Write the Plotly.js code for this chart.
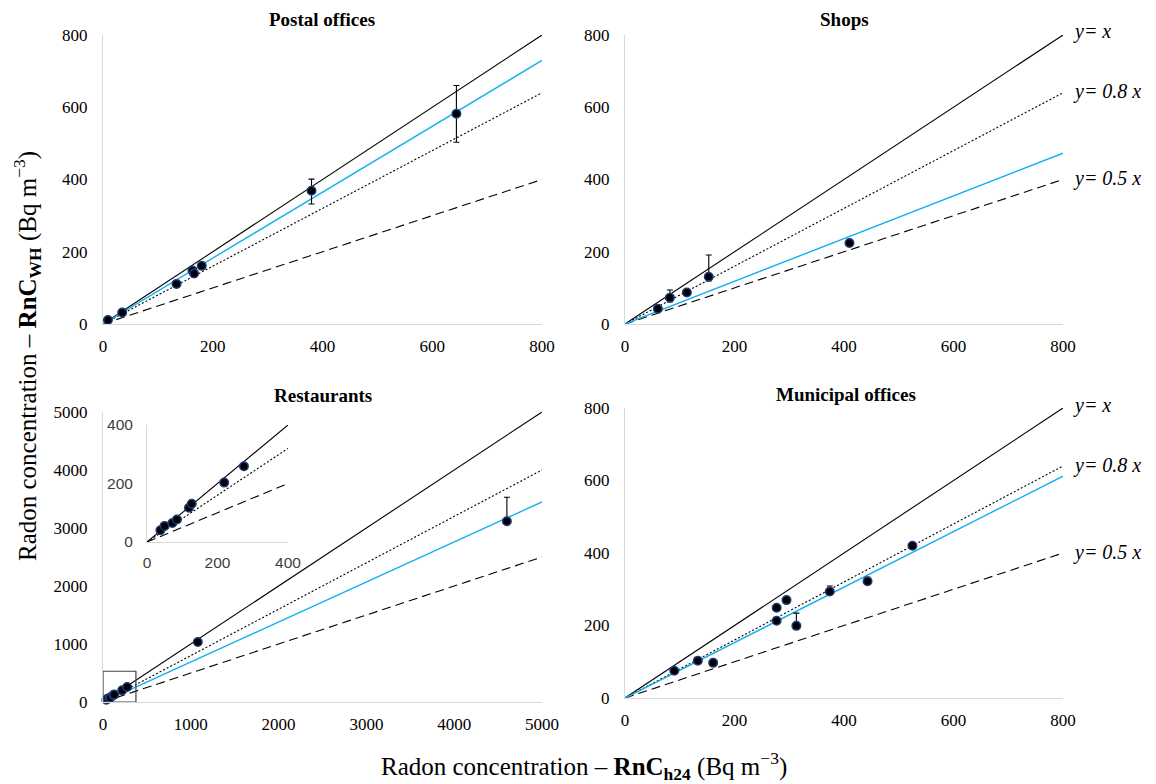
<!DOCTYPE html>
<html>
<head>
<meta charset="utf-8">
<script src="https://cdn.plot.ly/plotly-3.0.1.min.js"></script>
<style>html,body{margin:0;padding:0;background:#fff;}#chart{width:1156px;height:784px;}</style>
</head>
<body>
<div id="chart"></div>
<script>
// ---------------- DATA ----------------
const panelTitles = ["Postal offices", "Shops", "Restaurants", "Municipal offices"];

const postalX = [9, 35, 134, 163, 166, 180, 380, 644];
const postalY = [11, 32, 111, 148, 140, 161, 369, 582];
const postalErrPlus = [0, 0, 8, 0, 0, 0, 32, 78];
const postalErrMinus = [0, 0, 8, 0, 0, 0, 37, 79];

const shopsX = [60, 82, 113, 153, 410];
const shopsY = [42, 73, 87, 131, 224];
const shopsErrPlus = [0, 21, 0, 60, 0];
const shopsErrMinus = [0, 12, 0, 12, 0];

const restX = [38, 50, 72, 85, 119, 127, 219, 275, 1080, 4600];
const restY = [40, 55, 65, 77, 117, 131, 203, 259, 1035, 3115];
const restErrPlus = [0, 0, 0, 0, 0, 0, 0, 0, 0, 415];
const restErrMinus = [0, 0, 0, 0, 0, 0, 0, 0, 0, 0];

const muniX = [90, 133, 161, 277, 277, 295, 313, 374, 443, 525];
const muniY = [75, 103, 97, 249, 213, 270, 199, 294, 322, 420];
const muniErrPlus = [0, 0, 0, 0, 0, 0, 35, 15, 11, 0];
const muniErrMinus = [0, 0, 0, 0, 0, 0, 0, 3, 3, 0];

// reference lines y = k x and fitted slopes (blue)
const refSlopes = [1, 0.8, 0.5];
const refLabels = ["y= x", "y= 0.8 x", "y= 0.5 x"];
const fitSlopes = [0.912, 0.591, 0.69, 0.765];
const axisMax = [800, 800, 5000, 800];
const insetMax = 400;
const insetBox = [375, 530]; // zoom box extent in restaurant panel

// ---------------- LAYOUT HELPERS ----------------
const W = 1156, H = 784;
const px = v => v / W;
const py = v => 1 - v / H;
const serif = "'Liberation Serif', 'Times New Roman', serif";
const sans = "'Liberation Sans', Arial, sans-serif";

const refStyles = [
  {color: "#000", width: 1.1, dash: "solid"},
  {color: "#000", width: 1.1, dash: "2px,2px"},
  {color: "#000", width: 1.1, dash: "9px,5px"}
];

const panels = [
  {x: postalX, y: postalY, ep: postalErrPlus, em: postalErrMinus, xa: "x", ya: "y"},
  {x: shopsX, y: shopsY, ep: shopsErrPlus, em: shopsErrMinus, xa: "x2", ya: "y2"},
  {x: restX, y: restY, ep: restErrPlus, em: restErrMinus, xa: "x3", ya: "y3"},
  {x: muniX, y: muniY, ep: muniErrPlus, em: muniErrMinus, xa: "x4", ya: "y4"}
];

const traces = [];
panels.forEach((p, i) => {
  const m = axisMax[i];
  refSlopes.forEach((k, j) => {
    traces.push({x: [0, m], y: [0, k * m], xaxis: p.xa, yaxis: p.ya, mode: "lines",
      line: refStyles[j], hoverinfo: "skip", showlegend: false});
  });
  traces.push({x: [0, m], y: [0, fitSlopes[i] * m], xaxis: p.xa, yaxis: p.ya, mode: "lines",
    line: {color: "#12b0ee", width: 1.4}, hoverinfo: "skip", showlegend: false});
  traces.push({x: p.x, y: p.y, xaxis: p.xa, yaxis: p.ya, mode: "markers", showlegend: false,
    cliponaxis: false,
    marker: {size: 8.5, color: "#000", line: {color: "#1f3a78", width: 1.5}},
    error_y: {type: "data", symmetric: false, array: p.ep, arrayminus: p.em,
      color: "#000", thickness: 1.1, width: 3}});
});

// inset (restaurants zoom)
refSlopes.forEach((k, j) => {
  traces.push({x: [0, insetMax], y: [0, k * insetMax], xaxis: "x5", yaxis: "y5", mode: "lines",
    line: refStyles[j], hoverinfo: "skip", showlegend: false});
});
traces.push({x: restX.slice(0, 8), y: restY.slice(0, 8), xaxis: "x5", yaxis: "y5", mode: "markers",
  showlegend: false, cliponaxis: false,
  marker: {size: 8.5, color: "#000", line: {color: "#1f3a78", width: 1.5}}});

function ax(domain, range, dtick, anchor, isY, opts) {
  return Object.assign({
    domain: domain, range: range, dtick: dtick, tick0: 0, anchor: anchor,
    showgrid: false, zeroline: false, showline: true, linecolor: "#d9d9d9", linewidth: 1,
    ticks: "outside", tickcolor: "rgba(0,0,0,0)", ticklen: isY ? 11 : 7,
    tickfont: {family: serif, size: 17, color: "#000"}, fixedrange: true
  }, opts || {});
}

const colL = [px(103), px(542)], colR = [px(625), px(1063)];
const rowT = [py(324), py(35)], rowB1 = [py(702), py(412)], rowB2 = [py(698), py(408)];

const layout = {
  width: W, height: H, margin: {l: 0, r: 0, t: 0, b: 0},
  font: {family: serif, size: 17, color: "#000"},
  paper_bgcolor: "#fff", plot_bgcolor: "rgba(0,0,0,0)", showlegend: false,
  xaxis: ax(colL, [0, 800], 200, "y", false),
  yaxis: ax(rowT, [0, 800], 200, "x", true),
  xaxis2: ax(colR, [0, 800], 200, "y2", false),
  yaxis2: ax(rowT, [0, 800], 200, "x2", true),
  xaxis3: ax(colL, [0, 5000], 1000, "y3", false),
  yaxis3: ax(rowB1, [0, 5000], 1000, "x3", true),
  xaxis4: ax(colR, [0, 800], 200, "y4", false),
  yaxis4: ax(rowB2, [0, 800], 200, "x4", true),
  xaxis5: ax([px(147), px(288)], [0, 400], 200, "y5", false,
    {tickfont: {family: sans, size: 15.5, color: "#404040"}, ticklen: 6}),
  yaxis5: ax([py(542), py(425)], [0, 400], 200, "x5", true,
    {tickfont: {family: sans, size: 15.5, color: "#404040"}, ticklen: 10}),
  shapes: [
    {type: "rect", xref: "x3", yref: "y3", x0: 0, x1: insetBox[0], y0: 0, y1: insetBox[1],
      line: {color: "#404040", width: 1.2}, fillcolor: "rgba(0,0,0,0)"}
  ],
  annotations: []
};

const titlePos = [[322, 19], [844, 19], [323, 395], [846, 394]];
panelTitles.forEach((t, i) => {
  layout.annotations.push({text: "<b>" + t + "</b>", xref: "paper", yref: "paper",
    x: px(titlePos[i][0]), y: py(titlePos[i][1]), xanchor: "center", yanchor: "middle",
    showarrow: false, font: {family: serif, size: 19, color: "#000"}});
});

// line labels on right panels
[["x2", "y2"], ["x4", "y4"]].forEach(([xa, ya]) => {
  refSlopes.forEach((k, j) => {
    layout.annotations.push({text: "<i>" + refLabels[j] + "</i>", xref: xa, yref: ya,
      x: 800, y: k * 800, xanchor: "left", yanchor: "middle", xshift: 8, yshift: j === 0 ? 3 : 1,
      showarrow: false, font: {family: serif, size: 20, color: "#000"}});
  });
});

layout.annotations.push({
  text: "Radon concentration – <b>RnC</b><sub><b>WH</b></sub> (Bq m<sup>−3</sup>)",
  xref: "paper", yref: "paper", x: px(27), y: py(356), textangle: -90,
  xanchor: "center", yanchor: "middle", showarrow: false,
  font: {family: serif, size: 25, color: "#000"}
});
layout.annotations.push({
  text: "Radon concentration – <b>RnC</b><sub><b>h24</b></sub> (Bq m<sup>−3</sup>)",
  xref: "paper", yref: "paper", x: px(584), y: py(766),
  xanchor: "center", yanchor: "middle", showarrow: false,
  font: {family: serif, size: 25, color: "#000"}
});

Plotly.newPlot("chart", traces, layout, {displayModeBar: false, staticPlot: true});
</script>
</body>
</html>
